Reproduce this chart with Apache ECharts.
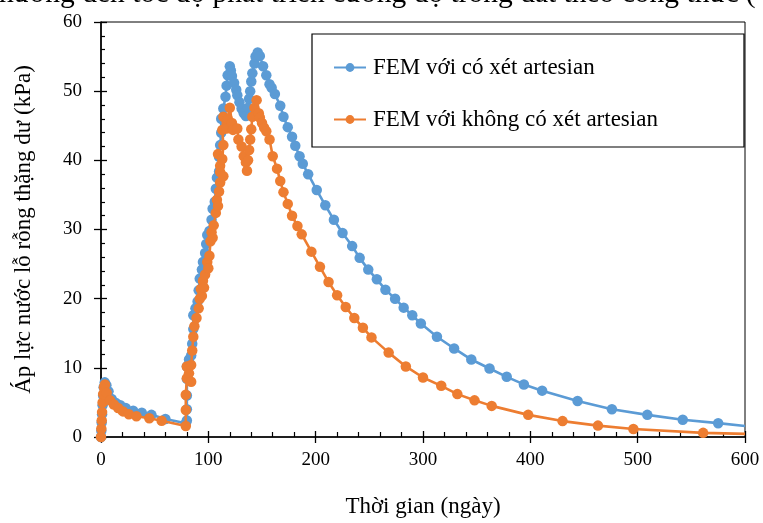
<!DOCTYPE html>
<html>
<head>
<meta charset="utf-8">
<script src="https://cdn.jsdelivr.net/npm/echarts@6/dist/echarts.min.js"></script>
<style>html,body{margin:0;padding:0;background:#fff}#c{width:763px;height:523px}</style>
</head>
<body>
<div id="c"></div>
<script>
// Series: "FEM với có xét artesian"
const arteX = [0,0.3,0.6,1,1.5,2,2.5,3.5,5,7,10,14,18,23,30,38,47,60,79,
  80,80,80,80,80,82,84,85,86,86,88,90,91,92,94,95,97,98,99,101,103,104,106,107,108,110,110,111,112,112,114,116,117,118,120,
  121,122,124,126,127,129,131,133,135,137,138,139,140,141,143,144,146,148,151,154,157,159,162,
  167,170,174,178,181,185,188,193,201,209,217,225,234,241,249,257,265,274,282,290,298,313,329,345,362,378,394,411,444,476,509,542,575,600];
const arteY = [0,0.9,2.1,3.3,4.6,6.0,7.2,7.9,7.5,6.6,5.5,4.9,4.6,4.2,3.8,3.5,3.2,2.6,2.0,
  2.4,4.0,6.0,8.4,10.2,11.2,11.8,13.5,15.6,17.6,18.6,19.6,21.2,22.9,24.2,25.3,26.6,27.9,29.2,29.8,31.4,33.0,34.0,35.9,37.5,38.4,40.5,42.2,44.0,46.0,47.5,49.2,50.8,52.3,53.6,
  53.0,52.2,51.2,50.2,49.4,48.4,47.5,46.8,46.4,47.6,48.9,50.0,51.4,52.6,54.0,55.0,55.6,55.1,53.6,52.3,51.0,50.5,49.6,
  47.9,46.3,44.8,43.4,42.1,40.6,39.5,38.0,35.7,33.5,31.4,29.5,27.6,25.9,24.2,22.8,21.3,20.0,18.7,17.6,16.4,14.5,12.8,11.2,9.9,8.7,7.6,6.7,5.2,4.0,3.2,2.5,2.0,1.6];

// Series: "FEM với không có xét artesian"
const noArteX = [0,0.3,0.7,1,1.5,2,2.8,3.7,5.3,8.5,12,16,20.5,26,33,45,56.5,79,
  79,79,80,80,82,84,84,85,86,87,89,91,92,93,94,95,96,97,99,100,101,102,103,104,105,107,108,109,110,111,111,109,111,114,113,114,113,114,117,118,120,
  122,123,127,128,131,133,135,136,137,138,139,140,141,143,145,147,148,150,152,154,157,160,164,167,170,174,178,183,187,
  196,204,212,220,228,236,244,252,268,284,300,317,332,348,364,398,430,463,496,561,600];
const noArteY = [0,1.2,2.4,3.6,5.0,6.2,7.2,7.6,6.4,5.3,4.7,4.2,3.7,3.3,3.0,2.7,2.35,1.6,
  3.9,6.1,8.5,10.2,9.2,8.0,10.4,12.5,14.5,16.0,17.2,18.6,20.0,21.4,20.4,22.6,21.6,23.5,25.3,24.4,26.2,28.3,29.6,28.8,30.6,32.4,34.3,33.4,35.5,36.8,38.3,40.9,39.2,37.7,40.2,42.2,44.4,46.3,44.6,46.0,47.6,
  45.4,44.4,44.6,43.0,42.0,40.6,39.7,38.5,40.0,41.5,43.0,44.5,46.3,47.6,48.7,46.8,46.2,45.4,44.7,44.2,43.0,40.6,38.8,37.0,35.4,33.7,32.0,30.5,29.3,
  26.8,24.6,22.4,20.5,18.8,17.2,15.8,14.4,12.2,10.2,8.6,7.4,6.2,5.3,4.5,3.2,2.3,1.65,1.15,0.6,0.45];

const seriesNames = ['FEM với có xét artesian', 'FEM với không có xét artesian'];
const xTicks = [0, 600, 100];
const yTicks = [0, 60, 10];
const xTitle = 'Thời gian (ngày)';
const yTitle = 'Áp lực nước lỗ rỗng thặng dư (kPa)';
const topText = 'hưởng đến tốc độ phát triển cường độ trong đất theo công thức (';

function zip(xs, ys) {
  return xs.map((x, i) => {
    const item = { value: [x, ys[i]] };
    if (i === xs.length - 1 && x >= xTicks[1]) item.symbol = 'none';
    return item;
  });
}

const serif = '"Liberation Serif", "Times New Roman", serif';
const chart = echarts.init(document.getElementById('c'), null, { renderer: 'canvas' });

const baseX = { type: 'value', min: xTicks[0], max: xTicks[1], interval: xTicks[2], gridIndex: 0 };
const baseY = { type: 'value', min: yTicks[0], max: yTicks[1], interval: yTicks[2], gridIndex: 0 };

chart.setOption({
  animation: false,
  backgroundColor: '#fff',
  grid: { left: 101, right: 18, top: 22, bottom: 84, show: true, borderColor: '#000', borderWidth: 1, backgroundColor: 'transparent' },
  graphic: [
    { type: 'text', x: -1, y: -21, style: { text: topText, font: '29.5px ' + serif, fill: '#000' } },
    { type: 'rect', shape: { x: 312, y: 34, width: 432, height: 113 }, style: { fill: '#fff', stroke: '#000', lineWidth: 1.2 }, z: 5 }
  ],
  legend: {
    orient: 'vertical', left: 328, top: 51, itemGap: 29, itemWidth: 32, itemHeight: 11,
    textStyle: { fontFamily: serif, fontSize: 23, color: '#000', padding: [0, 0, 0, 2] },
    data: seriesNames, z: 10
  },
  xAxis: [
    Object.assign({}, baseX, {
      name: xTitle, nameLocation: 'middle', nameGap: 58,
      nameTextStyle: { fontFamily: serif, fontSize: 23, color: '#000' },
      axisLine: { lineStyle: { color: '#000', width: 1.6 } },
      axisTick: { inside: true, length: 6, lineStyle: { color: '#000', width: 1.3 } },
      minorTick: { show: true, splitNumber: 5, length: 5, lineStyle: { color: '#000', width: 1.2 } },
      axisLabel: { fontFamily: serif, fontSize: 19, color: '#000', margin: 14 },
      splitLine: { show: false }
    }),
    Object.assign({}, baseX, {
      position: 'bottom',
      axisLine: { show: false },
      axisTick: { inside: false, length: 6, lineStyle: { color: '#000', width: 1.3 } },
      axisLabel: { show: false }, splitLine: { show: false }
    })
  ],
  yAxis: [
    Object.assign({}, baseY, {
      name: yTitle, nameLocation: 'middle', nameGap: 66,
      nameTextStyle: { fontFamily: serif, fontSize: 23, color: '#000' },
      axisLine: { show: true, lineStyle: { color: '#000', width: 1.6 } },
      axisTick: { show: true, inside: true, length: 6, lineStyle: { color: '#000', width: 1.3 } },
      minorTick: { show: true, splitNumber: 5, length: 4, lineStyle: { color: '#000', width: 1.2 } },
      axisLabel: { fontFamily: serif, fontSize: 19, color: '#000', margin: 19 },
      splitLine: { show: false }
    }),
    Object.assign({}, baseY, {
      position: 'left',
      axisLine: { show: false },
      axisTick: { show: true, inside: false, length: 7, lineStyle: { color: '#000', width: 1.3 } },
      axisLabel: { show: false }, splitLine: { show: false }
    })
  ],
  series: [
    {
      name: seriesNames[0], type: 'line', data: zip(arteX, arteY),
      symbol: 'circle', symbolSize: 10.5, showAllSymbol: true,
      itemStyle: { color: '#5B9BD5' }, lineStyle: { color: '#5B9BD5', width: 2.6 },
      z: 3
    },
    {
      name: seriesNames[1], type: 'line', data: zip(noArteX, noArteY),
      symbol: 'circle', symbolSize: 10.5, showAllSymbol: true,
      itemStyle: { color: '#ED7D31' }, lineStyle: { color: '#ED7D31', width: 2.6 },
      z: 4
    }
  ]
});
</script>
</body>
</html>
